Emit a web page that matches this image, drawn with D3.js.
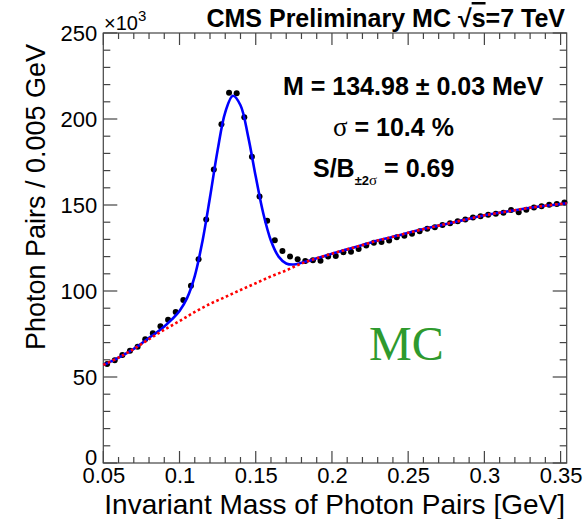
<!DOCTYPE html>
<html><head><meta charset="utf-8">
<script src="https://cdn.jsdelivr.net/npm/d3@7"></script>
<style>body{margin:0;background:#fff}svg{display:block}</style>
</head><body><svg id="c" width="584" height="519" font-family="Liberation Sans, Arial, Helvetica, sans-serif"></svg>
<script>
// ---- data (counts in units of 10^3 photon pairs per 0.005 GeV) ----
const massBins = [0.0525,0.0575,0.0625,0.0675,0.0725,0.0775,0.0825,0.0875,0.0925,0.0975,
  0.1025,0.1075,0.1125,0.1175,0.1225,0.1275,0.1325,0.1375,0.1425,0.1475,
  0.1525,0.1575,0.1625,0.1675,0.1725,0.1775,0.1825,0.1875,0.1925,0.1975,
  0.2025,0.2075,0.2125,0.2175,0.2225,0.2275,0.2325,0.2375,0.2425,0.2475,
  0.2525,0.2575,0.2625,0.2675,0.2725,0.2775,0.2825,0.2875,0.2925,0.2975,
  0.3025,0.3075,0.3125,0.3175,0.3225,0.3275,0.3325,0.3375,0.3425,0.3475,0.3525];
const pairCounts = [57.6,59.7,62.8,65.3,67.6,71.9,75.4,79.5,83.3,87.8,
  94.8,103.1,118.4,141.6,170.7,197.0,215.3,214.9,201.0,178.0,
  155.0,140.9,129.5,123.3,120.0,118.4,117.4,117.9,117.6,120.1,
  120.3,122.6,122.8,124.4,126.4,128.0,128.5,129.3,131.3,132.1,
  133.3,134.8,136.2,137.0,138.3,139.4,140.5,141.5,142.7,143.5,
  144.4,144.9,145.5,147.1,145.8,147.3,148.6,149.3,150.2,150.6,151.4];
// total fit (signal + background)
const fitMass = [0.05,0.06,0.07,0.075,0.08,0.085,0.09,0.095,0.10,0.105,0.11,0.115,0.12,0.125,0.13,0.135,
  0.14,0.145,0.15,0.155,0.16,0.165,0.17,0.175,0.18,0.185,0.19,0.20,0.21,0.22,0.23,0.24,0.25,
  0.26,0.27,0.28,0.29,0.30,0.31,0.32,0.33,0.34,0.35,0.354];
const fitTotal = [57.0,61.3,66.4,69.4,72.8,75.9,79.4,83.5,88.4,96.0,108.7,128.7,154.5,181.9,203.9,213.5,
  208.0,189.9,166.5,144.9,129.2,120.0,116.0,115.4,116.4,117.6,119.0,121.7,124.2,126.7,129.3,131.5,133.8,
  136.0,138.0,140.0,142.0,144.0,145.5,147.0,148.4,149.6,150.6,151.0];
// background only
const bkgMass = [0.05,0.06,0.07,0.08,0.09,0.10,0.11,0.12,0.13,0.14,0.15,0.16,0.17,0.18,0.19,0.20,
  0.21,0.22,0.23,0.24,0.25,0.26,0.27,0.28,0.29,0.30,0.31,0.32,0.33,0.34,0.35,0.354];
const bkgValues = [57.0,61.3,66.3,72.0,77.5,82.5,87.8,92.5,96.5,100.6,104.5,108.5,112.0,116.0,119.0,121.7,
  124.2,126.7,129.3,131.5,133.8,136.0,138.0,140.0,142.0,144.0,145.5,147.0,148.4,149.6,150.6,151.0];
const xTicks = [0.05,0.1,0.15,0.2,0.25,0.3,0.35];
const yTicks = [0,50,100,150,200,250];
const infoLines = ["M = 134.98 \u00B1 0.03 MeV"," = 10.4 %"," = 0.69"];

// ---- layout ----
const svg = d3.select("#c");
const L = 103.3, R = 566.7, T = 33, B = 463;
const x = d3.scaleLinear().domain([0.05,0.354]).range([L,R]);
const y = d3.scaleLinear().domain([0,250]).range([B,T]);
const axisCol = "#444";
const SANS = "Liberation Sans, Arial, Helvetica, sans-serif";
const SERIF = "Liberation Serif, Times New Roman, serif";

const xMinor = d3.range(0.05,0.3541,0.01).map(v=>+v.toFixed(3));
const yMinor = d3.range(0,250.1,10);

const g = svg.append("g");
g.append("rect").attr("x",L).attr("y",T).attr("width",R-L).attr("height",B-T)
  .attr("fill","none").attr("stroke",axisCol).attr("stroke-width",1.2);
xMinor.forEach(v=>{
  const isMajor = xTicks.some(t=>Math.abs(t-v)<1e-6);
  const len = isMajor?12:6;
  g.append("line").attr("x1",x(v)).attr("x2",x(v)).attr("y1",B).attr("y2",B-len).attr("stroke",axisCol).attr("stroke-width",1.2);
  g.append("line").attr("x1",x(v)).attr("x2",x(v)).attr("y1",T).attr("y2",T+len).attr("stroke",axisCol).attr("stroke-width",1.2);
});
yMinor.forEach(v=>{
  const isMajor = yTicks.includes(v);
  const len = isMajor?14:7;
  g.append("line").attr("y1",y(v)).attr("y2",y(v)).attr("x1",L).attr("x2",L+len).attr("stroke",axisCol).attr("stroke-width",1.2);
  g.append("line").attr("y1",y(v)).attr("y2",y(v)).attr("x1",R).attr("x2",R-len).attr("stroke",axisCol).attr("stroke-width",1.2);
});
const xAxis = svg.append("g").attr("transform",`translate(0,${B})`)
  .call(d3.axisBottom(x).tickValues(xTicks).tickSize(0).tickPadding(3).tickFormat(d=>String(+d.toFixed(2))));
xAxis.select(".domain").remove();
xAxis.selectAll("text").attr("font-size",22).attr("fill","#000").style("font-family",SANS).attr("dy","0.76em");
const yAxis = svg.append("g").attr("transform",`translate(${L},0)`)
  .call(d3.axisLeft(y).tickValues(yTicks).tickSize(0).tickPadding(6).tickFormat(d3.format("d")));
yAxis.select(".domain").remove();
yAxis.selectAll("text").attr("font-size",22).attr("fill","#000").style("font-family",SANS)
  .attr("dy",d=>d===0?"0.08em":"0.36em");

// x10^3
const mult = svg.append("text").attr("x",104).attr("y",30).attr("font-size",20);
mult.append("tspan").text("\u00D710");
mult.append("tspan").attr("dy",-9).attr("font-size",15).text("3");

// data points
svg.append("g").selectAll("circle").data(massBins).join("circle")
  .attr("cx",(d)=>x(d)).attr("cy",(d,i)=>y(pairCounts[i])).attr("r",3).attr("fill","#000");

// fit lines
const fitLine = d3.line().x((d,i)=>x(fitMass[i])).y(d=>y(d)).curve(d3.curveCatmullRom);
svg.append("path").datum(fitTotal).attr("d",fitLine).attr("fill","none").attr("stroke","#0000ff").attr("stroke-width",2.6);
const bkgLine = d3.line().x((d,i)=>x(bkgMass[i])).y(d=>y(d)).curve(d3.curveCatmullRom);
svg.append("path").datum(bkgValues).attr("d",bkgLine).attr("fill","none").attr("stroke","#ff0000").attr("stroke-width",2.6).attr("stroke-dasharray","2.6,2.6");

// title
const title = svg.append("text").attr("x",565).attr("y",27).attr("text-anchor","end").attr("font-size",25).attr("font-weight","bold");
title.append("tspan").text("CMS Preliminary MC \u221A");
title.append("tspan").style("text-decoration","overline").text("s");
title.append("tspan").text("=7 TeV");

// annotations
svg.append("text").attr("x",283).attr("y",95).attr("font-size",25).attr("font-weight","bold").text(infoLines[0]);
const sig = svg.append("text").attr("x",333).attr("y",136).attr("font-size",25).attr("font-weight","bold");
sig.append("tspan").attr("font-weight","normal").style("font-family",SERIF).attr("font-size",27).text("\u03C3");
sig.append("tspan").text(infoLines[1]);
const sb = svg.append("text").attr("x",313).attr("y",177).attr("font-size",25).attr("font-weight","bold");
sb.append("tspan").text("S/B");
sb.append("tspan").attr("dy",8).attr("font-size",13).text("\u00B12");
sb.append("tspan").attr("font-size",15).attr("font-weight","normal").style("font-family",SERIF).text("\u03C3");
sb.append("tspan").attr("dy",-8).text(infoLines[2]);

// MC label
svg.append("text").attr("x",369).attr("y",360).style("font-family",SERIF)
  .attr("font-size",48).attr("fill","#2e9a2e").text("MC");

// axis titles
svg.append("text").attr("x",565).attr("y",514).attr("text-anchor","end").attr("font-size",28).text("Invariant Mass of Photon Pairs [GeV]");
svg.append("text").attr("transform","translate(45,197) rotate(-90)").attr("text-anchor","middle").attr("font-size",27).text("Photon Pairs / 0.005 GeV");
</script></body></html>
